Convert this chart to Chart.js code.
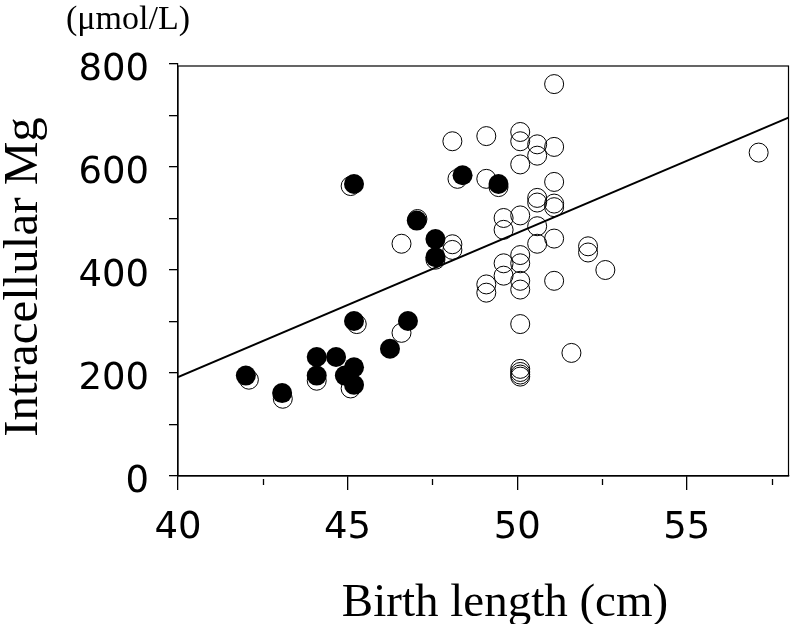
<!DOCTYPE html>
<html>
<head>
<meta charset="utf-8">
<script src="https://cdn.jsdelivr.net/npm/chart.js@4"></script>
<style>
html,body{margin:0;padding:0;background:#fff;}
#wrap{width:799px;height:624px;position:relative;}
</style>
</head>
<body>
<div id="wrap"><canvas id="c" width="799" height="624"></canvas></div>
<script>
// Filled circles
const filledX = [42.0, 43.07, 44.09, 44.09, 44.66, 44.92, 45.19, 45.19, 45.19, 45.19, 46.25, 46.78, 47.04, 47.59, 47.59, 48.39, 49.45];
const filledY = [195, 161, 231, 195, 231, 195, 211, 177, 301, 567, 247, 301, 496, 460, 425, 584, 567];
// Open circles
const openX = [51.09, 48.09, 49.09, 50.09, 50.09, 50.59, 51.09, 50.59, 50.09, 57.12,
  48.24, 49.09, 49.45, 45.09, 51.09, 50.59, 50.59, 51.09, 51.09, 49.6, 50.09, 49.6, 50.59,
  47.06, 46.59, 48.09, 48.09, 47.59, 50.59, 51.09, 52.09, 52.09, 52.6, 49.6, 50.09, 50.09,
  49.6, 49.09, 49.09, 50.09, 50.09, 51.09, 50.09, 46.59, 45.27, 51.6, 50.09, 50.09, 50.09, 50.09,
  42.09, 43.09, 44.09, 45.09];
const openY = [761, 650, 660, 668, 650, 644, 639, 622, 605, 628,
  577, 577, 561, 563, 571, 540, 531, 529, 522, 501, 506, 478, 485,
  499, 451, 450, 439, 420, 451, 461, 446, 434, 400, 413, 429, 413,
  389, 372, 356, 379, 362, 379, 295, 278, 295, 239, 208, 202, 197, 193,
  187, 150, 185, 170];
// Regression line end points
const lineX = [40, 58];
const lineY = [192, 696];
// Axis labels
const xTitle = 'Birth length (cm)';
const yTitle = 'Intracellular Mg';
const unitLabel = '(\u03bcmol/L)';
const xMinorTicks = [42.5, 47.5, 52.5, 57.5];

const toPts = (xs, ys) => xs.map((x, i) => ({x: x, y: ys[i]}));

const framePlugin = {
  id: 'frame',
  afterDraw(chart) {
    const {ctx, chartArea: a, scales} = chart;
    ctx.save();
    ctx.strokeStyle = '#000';
    ctx.lineWidth = 1.2;
    ctx.strokeRect(a.left, a.top + 2, a.right - a.left, a.bottom - a.top - 2);
    // minor x ticks
    ctx.lineWidth = 1.3;
    xMinorTicks.forEach(v => {
      const px = Math.round(scales.x.getPixelForValue(v)) + 0.5;
      ctx.beginPath();
      ctx.moveTo(px, a.bottom + 3);
      ctx.lineTo(px, a.bottom + 9);
      ctx.stroke();
    });
    // titles
    ctx.fillStyle = '#000';
    ctx.font = '47px "Liberation Serif", "Times New Roman", serif';
    ctx.textAlign = 'center';
    ctx.textBaseline = 'alphabetic';
    ctx.fillText(xTitle, 505, 616);
    ctx.save();
    ctx.translate(37, 277);
    ctx.rotate(-Math.PI / 2);
    ctx.font = '49px "Liberation Serif", "Times New Roman", serif';
    ctx.fillText(yTitle, 0, 0);
    ctx.restore();
    ctx.font = '34px "Liberation Serif", "Times New Roman", serif';
    ctx.textAlign = 'left';
    ctx.fillText(unitLabel, 66, 29);
    ctx.restore();
  }
};

new Chart(document.getElementById('c'), {
  type: 'scatter',
  data: {
    datasets: [
      {
        label: 'filled',
        data: toPts(filledX, filledY),
        pointRadius: 10,
        pointBackgroundColor: '#000',
        pointBorderColor: '#000',
        pointBorderWidth: 0,
        order: 0
      },
      {
        label: 'open',
        data: toPts(openX, openY),
        pointRadius: 9.5,
        pointBackgroundColor: 'rgba(0,0,0,0)',
        pointBorderColor: '#000',
        pointBorderWidth: 1,
        order: 1
      },
      {
        type: 'line',
        label: 'fit',
        data: toPts(lineX, lineY),
        borderColor: '#000',
        borderWidth: 2,
        pointRadius: 0,
        fill: false,
        order: 2
      }
    ]
  },
  options: {
    responsive: false,
    animation: false,
    layout: {padding: {left: 0, right: 3, top: 64, bottom: 0}},
    plugins: {legend: {display: false}, tooltip: {enabled: false}},
    scales: {
      x: {
        type: 'linear',
        min: 40, max: 58,
        afterFit(s) { s.height = 148; },
        afterBuildTicks(s) { s.ticks = [40, 45, 50, 55].map(v => ({value: v})); },
        ticks: {
          color: '#000',
          font: {family: '"DejaVu Sans", sans-serif', size: 37},
          padding: 16,
          maxRotation: 0,
          callback: v => String(v)
        },
        grid: {drawOnChartArea: false, drawTicks: true, tickLength: 14, color: '#000', lineWidth: 1.3},
        border: {display: true, color: '#000', width: 1.2}
      },
      y: {
        type: 'linear',
        min: 0, max: 800,
        afterFit(s) { s.width = 178; },
        ticks: {
          stepSize: 100,
          color: '#000',
          font: {family: '"DejaVu Sans", sans-serif', size: 37},
          padding: 20,
          labelOffset: 6,
          callback: v => (v % 200 === 0 ? String(v) : '')
        },
        grid: {drawOnChartArea: false, drawTicks: true, tickLength: 9, color: '#000', lineWidth: 1.3},
        border: {display: true, color: '#000', width: 1.2}
      }
    }
  },
  plugins: [framePlugin]
});
</script>
</body>
</html>
